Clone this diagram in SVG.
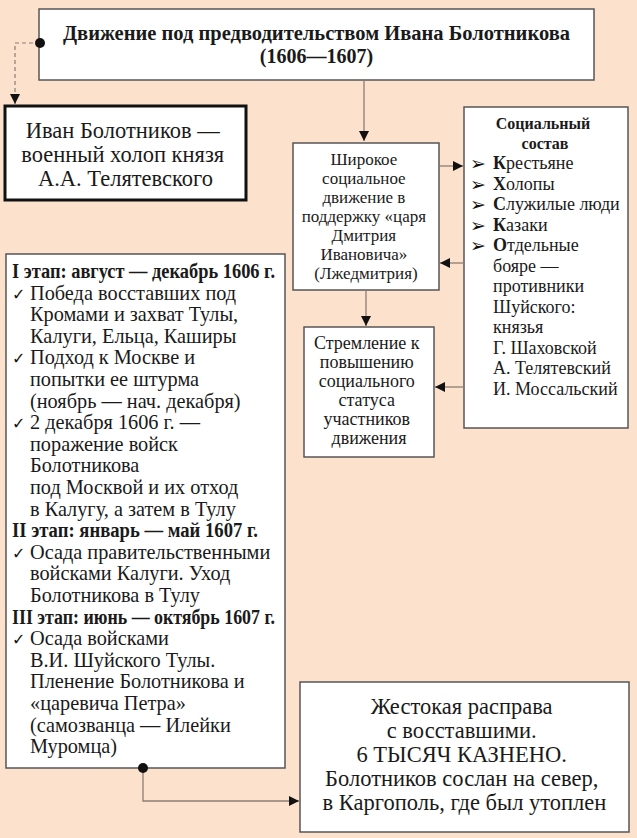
<svg xmlns="http://www.w3.org/2000/svg" width="637" height="838" viewBox="0 0 637 838">
<style>
.box{fill:#fff;stroke:#555;stroke-width:1.5}
.t{font-family:"Liberation Serif","Times New Roman",serif;fill:#1a1a1a}
.b{font-weight:bold}
.c{text-anchor:middle}
.sym{font-family:"DejaVu Sans",sans-serif}
.ln{fill:none;stroke:#8c7d74;stroke-width:1.3}
.dash{fill:none;stroke:#8c7d74;stroke-width:1.2;stroke-dasharray:4 3}
</style>
<defs>
<marker id="ah" viewBox="0 0 10 10" refX="10" refY="5" markerWidth="11" markerHeight="10" markerUnits="userSpaceOnUse" orient="auto">
<path d="M0,0 L10,5 L0,10 z" fill="#111"/>
</marker>
</defs>
<rect width="637" height="838" fill="#fce1cd"/>

<g id="title">
<rect class="box" x="39" y="9" width="555" height="71"/>
<text class="t b c" font-size="20" x="316.5" y="40" textLength="507" lengthAdjust="spacingAndGlyphs">Движение под предводительством Ивана Болотникова</text>
<text class="t b c" font-size="20" x="316.5" y="63">(1606—1607)</text>
</g>

<g id="ivan">
<rect x="5" y="106" width="241" height="94" fill="#fff" stroke="#111" stroke-width="3"/>
<text class="t c" font-size="22.5">
<tspan x="125.5" y="138">Иван Болотников —</tspan>
<tspan x="125.5" y="162">военный холоп князя</tspan>
<tspan x="125.5" y="186">А.А. Телятевского</tspan>
</text>
</g>

<g id="shirokoe">
<rect class="box" x="293" y="143" width="146" height="147"/>
<text class="t c" font-size="17">
<tspan x="366" y="165">Широкое</tspan>
<tspan x="366" y="184">социальное</tspan>
<tspan x="366" y="203">движение в</tspan>
<tspan x="366" y="222">поддержку «царя</tspan>
<tspan x="366" y="241">Дмитрия</tspan>
<tspan x="366" y="260">Ивановича»</tspan>
<tspan x="366" y="279">(Лжедмитрия)</tspan>
</text>
</g>

<g id="social">
<rect class="box" x="464" y="107" width="164" height="321"/>
<text class="t b c" font-size="16">
<tspan x="545" y="129">Социальный</tspan>
<tspan x="545" y="149">состав</tspan>
</text>
<g class="sym" font-size="19" fill="#111">
<text x="470" y="170">➢</text>
<text x="470" y="190.5">➢</text>
<text x="470" y="211">➢</text>
<text x="470" y="231.5">➢</text>
<text x="470" y="252">➢</text>
</g>
<text class="t" font-size="18">
<tspan x="493" y="169"><tspan class="b">К</tspan>рестьяне</tspan>
<tspan x="493" y="189.5"><tspan class="b">Х</tspan>олопы</tspan>
<tspan x="493" y="210"><tspan class="b">С</tspan>лужилые люди</tspan>
<tspan x="493" y="230.5"><tspan class="b">К</tspan>азаки</tspan>
<tspan x="493" y="251"><tspan class="b">О</tspan>тдельные</tspan>
<tspan x="493" y="271.5">бояре —</tspan>
<tspan x="493" y="292">противники</tspan>
<tspan x="493" y="312.5">Шуйского:</tspan>
<tspan x="493" y="333">князья</tspan>
<tspan x="493" y="353.5">Г. Шаховской</tspan>
<tspan x="493" y="374">А. Телятевский</tspan>
<tspan x="493" y="394.5">И. Моссальский</tspan>
</text>
</g>

<g id="stremlenie">
<rect class="box" x="304" y="327" width="130" height="130"/>
<text class="t c" font-size="18">
<tspan x="369" y="349">Стремление к</tspan>
<tspan x="369" y="368">повышению</tspan>
<tspan x="369" y="387">социального</tspan>
<tspan x="369" y="406">статуса</tspan>
<tspan x="369" y="425">участников</tspan>
<tspan x="369" y="444">движения</tspan>
</text>
</g>

<g id="stages">
<rect class="box" x="6" y="254" width="279" height="514"/>
<g class="sym" font-size="16" fill="#111">
<text x="12" y="299.6">✓</text>
<text x="12" y="364.4">✓</text>
<text x="12" y="429.2">✓</text>
<text x="12" y="558.8">✓</text>
<text x="12" y="645.2">✓</text>
</g>
<text class="t" font-size="20.3">
<tspan class="b" x="12" y="278" textLength="263" lengthAdjust="spacingAndGlyphs">I этап: август — декабрь 1606 г.</tspan>
<tspan x="30" y="299.6">Победа восставших под</tspan>
<tspan x="30" y="321.2">Кромами и захват Тулы,</tspan>
<tspan x="30" y="342.8">Калуги, Ельца, Каширы</tspan>
<tspan x="30" y="364.4">Подход к Москве и</tspan>
<tspan x="30" y="386">попытки ее штурма</tspan>
<tspan x="30" y="407.6">(ноябрь — нач. декабря)</tspan>
<tspan x="30" y="429.2">2 декабря 1606 г. —</tspan>
<tspan x="30" y="450.8">поражение войск</tspan>
<tspan x="30" y="472.4">Болотникова</tspan>
<tspan x="30" y="494">под Москвой и их отход</tspan>
<tspan x="30" y="515.6">в Калугу, а затем в Тулу</tspan>
<tspan class="b" x="12" y="537.2" textLength="246" lengthAdjust="spacingAndGlyphs">II этап: январь — май 1607 г.</tspan>
<tspan x="30" y="558.8">Осада правительственными</tspan>
<tspan x="30" y="580.4">войсками Калуги. Уход</tspan>
<tspan x="30" y="602">Болотникова в Тулу</tspan>
<tspan class="b" x="12" y="623.6" textLength="263" lengthAdjust="spacingAndGlyphs">III этап: июнь — октябрь 1607 г.</tspan>
<tspan x="30" y="645.2">Осада войсками</tspan>
<tspan x="30" y="666.8">В.И. Шуйского Тулы.</tspan>
<tspan x="30" y="688.4">Пленение Болотникова и</tspan>
<tspan x="30" y="710">«царевича Петра»</tspan>
<tspan x="30" y="731.6">(самозванца — Илейки</tspan>
<tspan x="30" y="753.2">Муромца)</tspan>
</text>
</g>

<g id="final">
<rect class="box" x="300" y="682" width="329" height="150"/>
<text class="t c" font-size="22.5">
<tspan x="464.5" y="714">Жестокая расправа</tspan>
<tspan x="464.5" y="738">с восставшими.</tspan>
<tspan x="464.5" y="762">6 ТЫСЯЧ КАЗНЕНО.</tspan>
<tspan x="464.5" y="786">Болотников сослан на север,</tspan>
<tspan x="464.5" y="810">в Каргополь, где был утоплен</tspan>
</text>
</g>

<g id="connectors">
<path class="dash" d="M40,43 H15 V104" marker-end="url(#ah)"/>
<circle cx="40" cy="43" r="5" fill="#111"/>
<path class="ln" d="M364,81 V141" marker-end="url(#ah)"/>
<path class="ln" d="M440,166 H463" marker-end="url(#ah)"/>
<path class="ln" d="M464,263 H440" marker-end="url(#ah)"/>
<path class="ln" d="M366,291 V326" marker-end="url(#ah)"/>
<path class="ln" d="M464,387 H435" marker-end="url(#ah)"/>
<path class="ln" d="M143,768 V801 H299" marker-end="url(#ah)"/>
<circle cx="143" cy="768" r="5" fill="#111"/>
</g>
</svg>
